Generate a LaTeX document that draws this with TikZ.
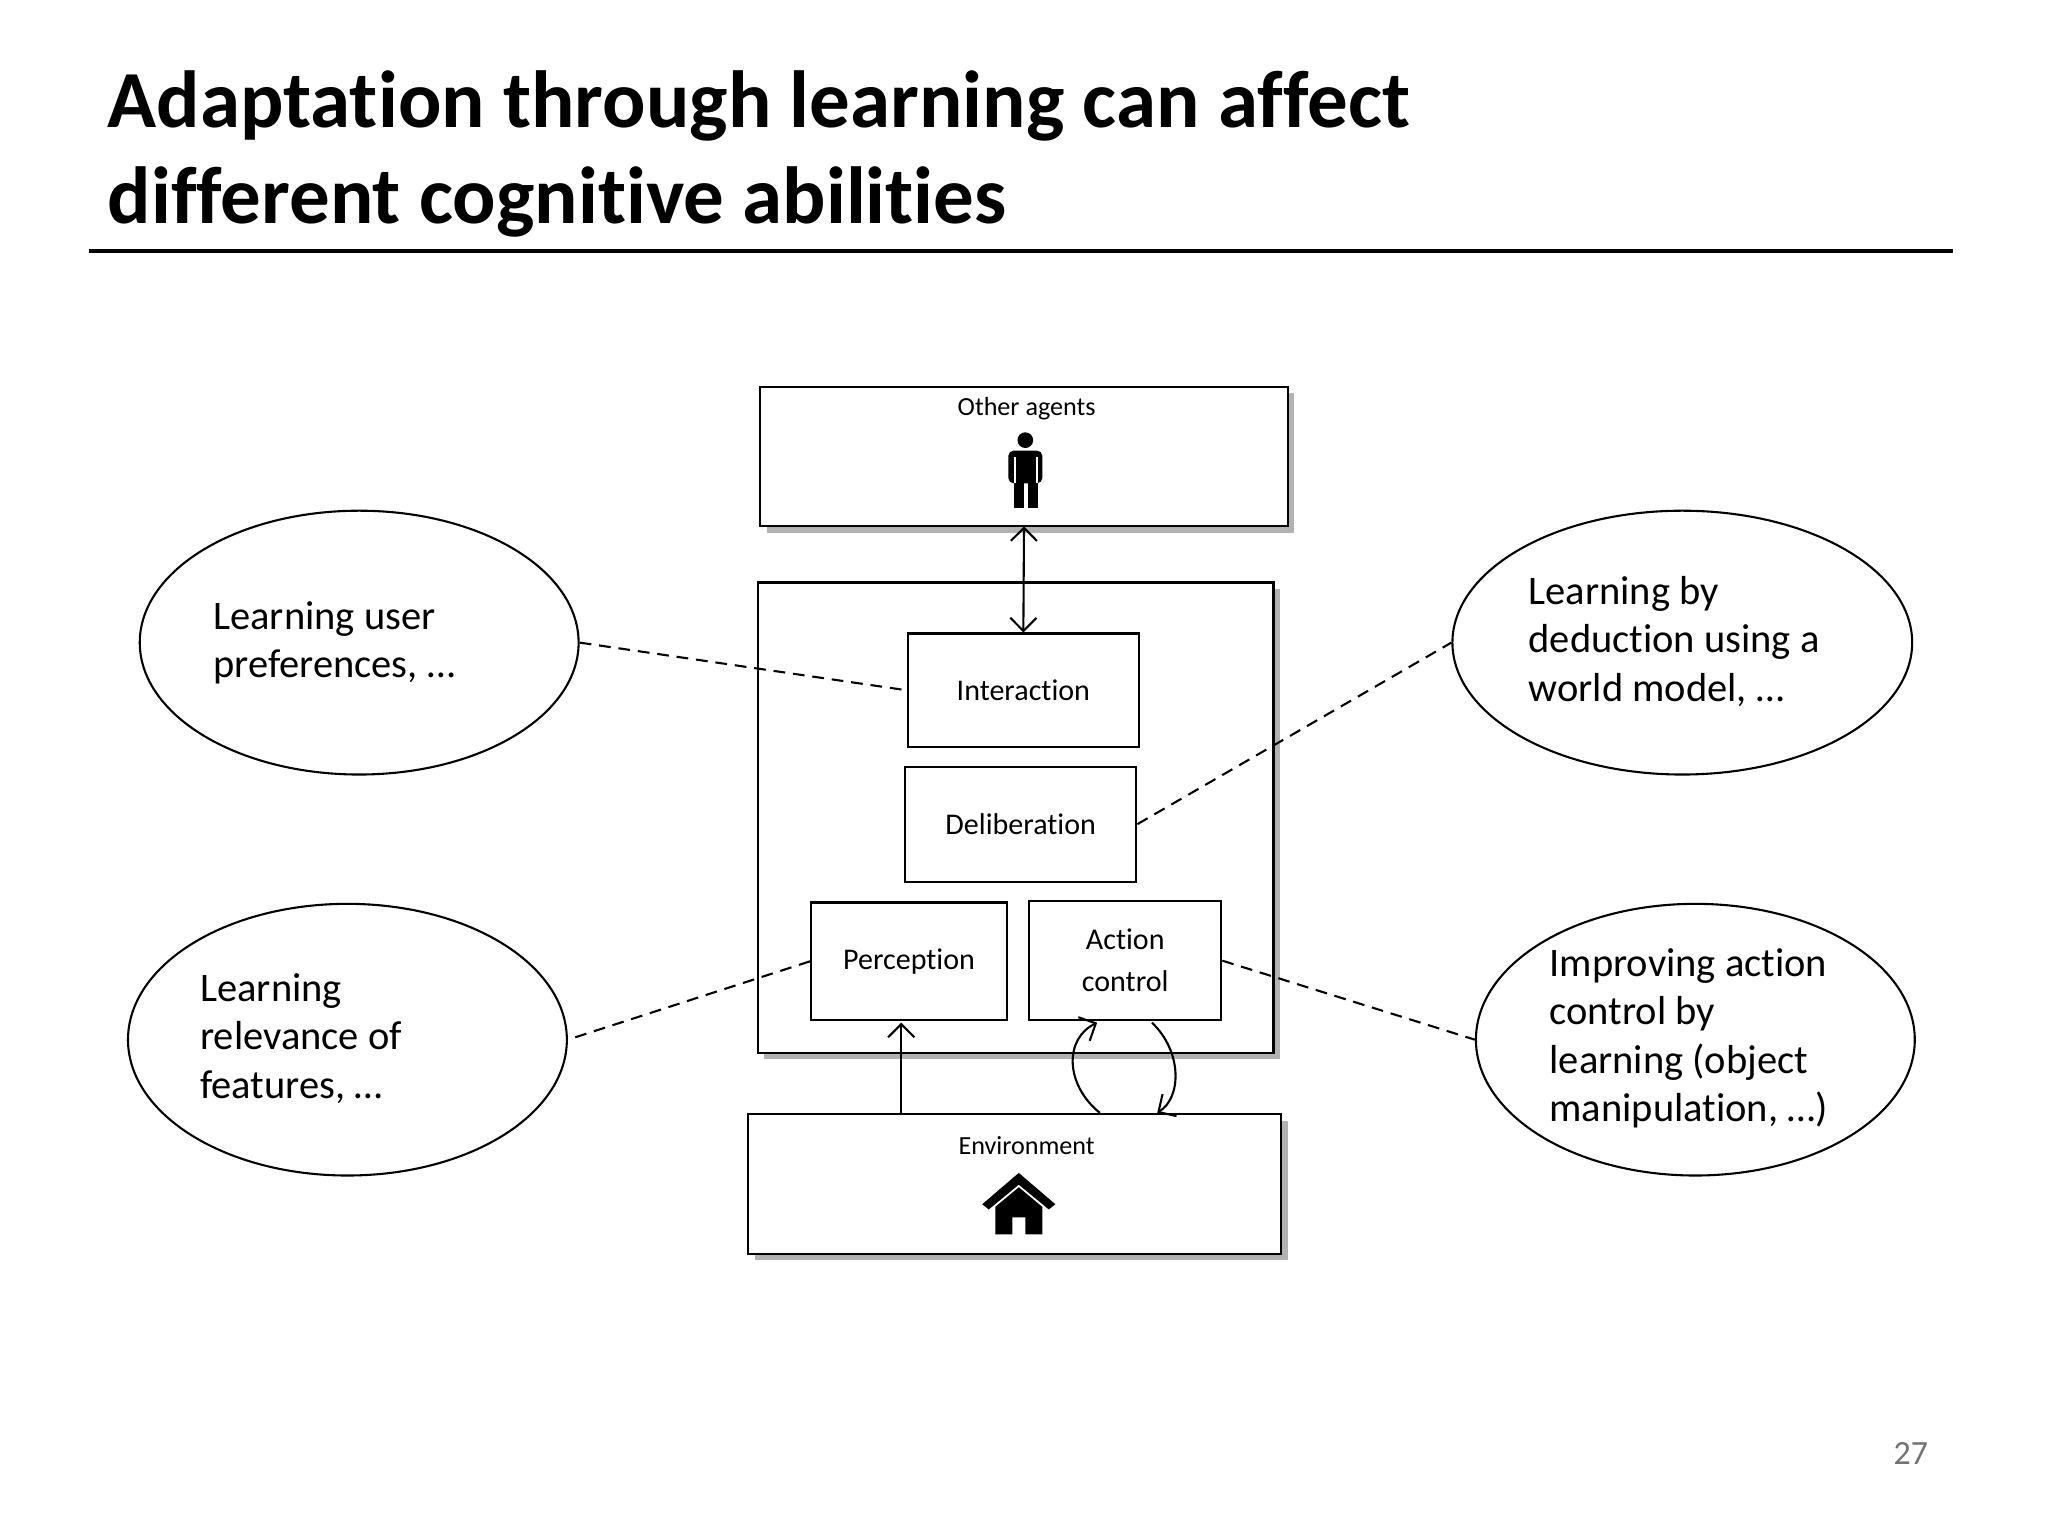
\documentclass[tikz,border=0pt]{standalone}
\usepackage{fontspec}
\setmainfont{Carlito}[Ligatures=NoCommon]
\usetikzlibrary{arrows.meta,shapes.geometric}
\begin{document}
\begin{tikzpicture}[x=0.5pt,y=-0.5pt,
  box/.style={draw,thick,fill=white},
  ell/.style={draw,thick,ellipse},
  lab/.style={font=\fontsize{11.5}{15}\selectfont,align=center},
  small/.style={font=\fontsize{10}{12}\selectfont},
  big/.style={font=\fontsize{15.5}{18.5}\selectfont,align=left,anchor=north west,inner sep=0pt},
  dsh/.style={thick,dash pattern=on 4.5pt off 3pt},
  arr/.style={thick,-{Straight Barb[length=5pt]}}]
\useasboundingbox (0,0) rectangle (1568,1176);
\fill[white] (0,0) rectangle (1568,1176);
% title
\node[anchor=north west,inner sep=0pt,align=left,font=\fontsize{31}{36.5}\bfseries\selectfont] (title) at (82,54) {Adaptation through learning can affect\\different cognitive abilities};
\draw[line width=1.5pt] (68,192) -- (1495,192);
% shadows
\foreach \a/\b/\c/\d in {582/296/986/403,580/446/975/806,573/853/981/960}
  \fill[black!30] (\a+5,\b+5) rectangle (\c+5,\d+5);
% boxes
\draw[box] (582,296) rectangle (986,403);
\node[small] (oa) at (786,313) {Other agents};
\coordinate (oab) at (784,403);
\draw[box] (580,446) rectangle (975,806);
\draw[box] (573,853) rectangle (981,960);
\node[small] (env) at (786,877) {Environment};
\node[box,lab,minimum width=88.5pt,minimum height=43.5pt] (int) at (783.5,528.5) {Interaction};
\node[box,lab,minimum width=88.5pt,minimum height=44pt] (del) at (781.5,631) {Deliberation};
\node[box,lab,minimum width=75pt,minimum height=45pt] (per) at (696,736) {Perception};
\node[box,lab,minimum width=73.5pt,minimum height=45.5pt] (act) at (861.5,735.5) {Action\\[1pt]control};
% person icon
\fill (785,337) circle (6);
\fill[rounded corners=2] (772,345) rectangle (798,370);
\fill (776,360) rectangle (784,389);
\fill (787,360) rectangle (795,389);
\fill[white] (776,350) rectangle (777.5,370);
\fill[white] (793,350) rectangle (794.5,370);
% house icon
\fill (780,898) -- (808,922) -- (803,926) -- (780,907) -- (757,926) -- (752,922) -- cycle;
\fill (762,924) -- (780,909) -- (798,924) -- (798,945) -- (785,945) -- (785,932) -- (775,932) -- (775,945) -- (762,945) -- cycle;
% ellipses
\node[ell,minimum width=168pt,minimum height=101pt] (e1) at (275,492) {};
\node[big] at (163,460) {Learning user\\preferences, \dots};
\node[ell,minimum width=176pt,minimum height=101pt] (e2) at (1288,492) {};
\node[big] at (1170,441) {Learning by\\deduction using a\\world model, \dots};
\node[ell,minimum width=168pt,minimum height=104pt] (e3) at (266,796) {};
\node[big] at (153,745) {Learning\\relevance of\\features, \dots};
\node[ell,minimum width=168pt,minimum height=104pt] (e4) at (1298,796) {};
\node[big] at (1186,726) {Improving action\\control by\\learning (object\\manipulation, \dots)};
% dashed
\draw[dsh] (e1.east) -- (int.west);
\draw[dsh] (del.east) -- (e2.west);
\draw[dsh] (per.west) -- (e3.east);
\draw[dsh] (act.east) -- (e4.west);
% arrows
\draw[thick,{Straight Barb[length=5pt]}-{Straight Barb[length=5pt]}] (oab) -- (int.north);
\coordinate (pe) at (690,853);
\draw[arr] (pe) -- (690,783);
\coordinate (l1) at (842,852);
\coordinate (l2) at (840,783);
\draw[arr] (l1) .. controls (815,830) and (815,795) .. (l2);
\coordinate (l3) at (882,783);
\coordinate (l4) at (886,852);
\draw[arr] (l3) .. controls (905,805) and (905,840) .. (l4);
\node[font=\fontsize{13}{15}\selectfont,text=black!55] (pg) at (1463,1113) {27};
\end{tikzpicture}
\end{document}
